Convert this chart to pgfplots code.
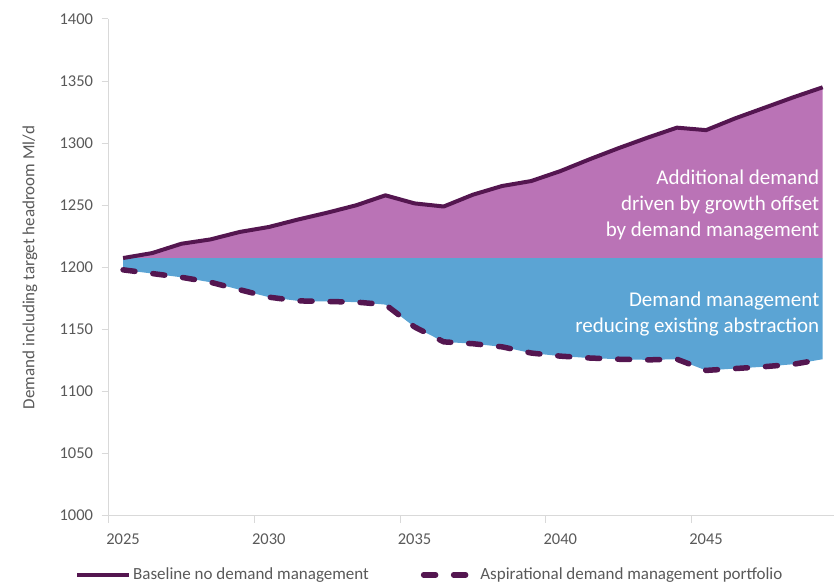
\documentclass[border=0pt]{standalone}
\usepackage{fontspec}
\setmainfont{Carlito}
\usepackage{pgfplots}
\usepackage{pgfplotstable}
\pgfplotsset{compat=1.18}
\definecolor{lineP}{HTML}{541650}
\definecolor{fillP}{HTML}{BA73B6}
\definecolor{fillB}{HTML}{5BA4D4}
\definecolor{axgray}{HTML}{D9D9D9}
\definecolor{txt}{HTML}{595959}

\pgfplotstableread{
year base asp
2025 1207.5 1198
2026 1211.5 1195
2027 1219 1192
2028 1222.5 1188
2029 1228.5 1182
2030 1232.5 1176
2031 1238.5 1173
2032 1244 1172.5
2033 1250 1172
2034 1258 1170
2035 1251.5 1152
2036 1249 1140
2037 1258.5 1138.5
2038 1265.5 1136
2039 1269.5 1131
2040 1277.5 1128.5
2041 1287 1127
2042 1296 1126
2043 1304.5 1125.5
2044 1312.5 1126
2045 1310.5 1117
2046 1320 1118.5
2047 1328.5 1120
2048 1337 1122
2049 1345 1126
}\data

\begin{document}
\begin{tikzpicture}
\useasboundingbox (-108.5bp,-68.3bp) rectangle (725.5bp,515.7bp);
\begin{axis}[
  scale only axis,
  width=728.75bp, height=496.7bp,
  xmin=2024.5, xmax=2049.5, ymin=1000, ymax=1400,
  axis x line*=bottom, axis y line*=left,
  axis line style={draw=axgray, line width=1bp},
  tick align=outside, major tick length=7bp,
  tick style={draw=axgray, line width=1bp},
  xtick={2024.5,2029.5,2034.5,2039.5,2044.5,2049.5},
  xticklabels={2025,2030,2035,2040,2045,{}},
  xticklabel style={xshift=14.575bp, yshift=-8bp},
  ytick={1000,1050,...,1400},
  yticklabel style={xshift=-5bp},
  /pgf/number format/assume math mode=true,
  /pgf/number format/1000 sep={},
  tick label style={font=\fontsize{16.5bp}{19bp}\selectfont, text=txt},
  ylabel={Demand including target headroom Ml/d},
  every axis y label/.style={at={(axis description cs:-0.1077,0.5)}, rotate=90, anchor=center, font=\fontsize{17bp}{20bp}\selectfont, text=txt},
  legend columns=2,
  legend style={at={(axis description cs:-0.046,-0.119)}, anchor=west, draw=none, fill=none, inner sep=0pt,
    font=\fontsize{17bp}{19bp}\selectfont, text=txt,
    /tikz/every even column/.append style={column sep=50bp}},
  legend cell align=left,
  legend image code/.code={\draw[#1] (0bp,0bp) -- (52bp,0bp);},
]
\addplot[fill=fillP, draw=none, forget plot] coordinates {
(2025,1207.5) (2026,1211.5) (2027,1219) (2028,1222.5) (2029,1228.5) (2030,1232.5)
(2031,1238.5) (2032,1244) (2033,1250) (2034,1258) (2035,1251.5) (2036,1249)
(2037,1258.5) (2038,1265.5) (2039,1269.5) (2040,1277.5) (2041,1287) (2042,1296)
(2043,1304.5) (2044,1312.5) (2045,1310.5) (2046,1320) (2047,1328.5) (2048,1337)
(2049,1345) (2049,1207.5) (2025,1207.5)} -- cycle;
\addplot[fill=fillB, draw=none, forget plot] coordinates {
(2025,1207.5) (2049,1207.5)
(2049,1126) (2048,1122) (2047,1120) (2046,1118.5) (2045,1117) (2044,1126)
(2043,1125.5) (2042,1126) (2041,1127) (2040,1128.5) (2039,1131) (2038,1136)
(2037,1138.5) (2036,1140) (2035,1152) (2034,1170) (2033,1172) (2032,1172.5)
(2031,1173) (2030,1176) (2029,1182) (2028,1188) (2027,1192) (2026,1195)
(2025,1198) (2025,1207.5)} -- cycle;
\addplot[draw=lineP, line width=4bp, line join=round] table[x=year, y=base] {\data};
\addlegendentry{Baseline no demand management}
\addplot[draw=lineP, line width=5.5bp, line cap=round, line join=round, dash pattern=on 12bp off 18bp] table[x=year, y=asp] {\data};
\addlegendentry{Aspirational demand management portfolio}
\node[anchor=east, align=right, inner sep=0pt, text=white, font=\fontsize{21bp}{26bp}\selectfont] at (axis cs:2048.89,1250) {Additional demand\\driven by growth offset\\by demand management};
\node[anchor=east, align=right, inner sep=0pt, text=white, font=\fontsize{21bp}{26bp}\selectfont] at (axis cs:2048.89,1162.7) {Demand management\\reducing existing abstraction};
\end{axis}
\end{tikzpicture}
\end{document}
